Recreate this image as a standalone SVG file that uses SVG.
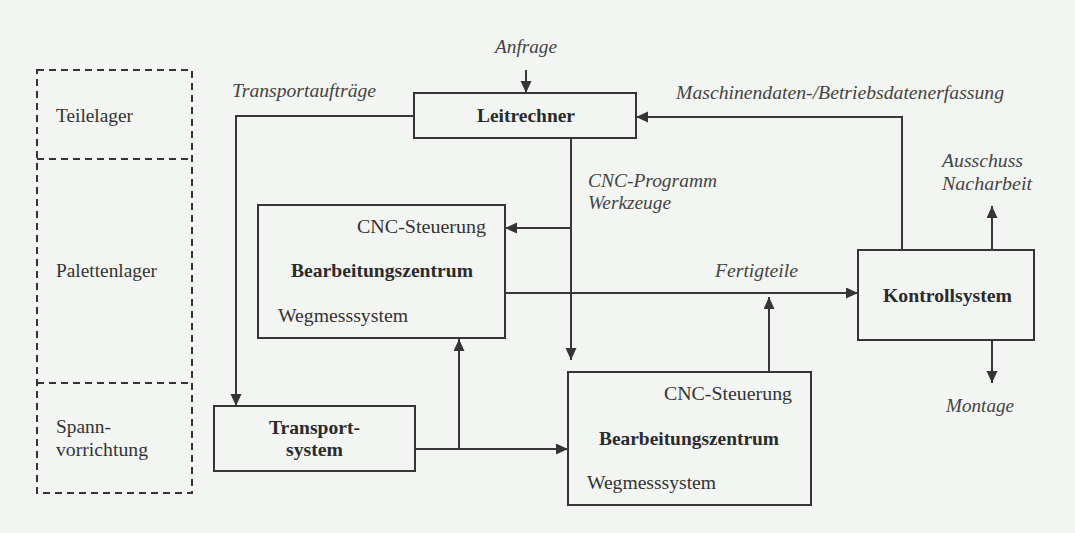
<svg xmlns="http://www.w3.org/2000/svg" width="1075" height="533" viewBox="0 0 1075 533">
<style>
.bg{fill:#f3f5f3}
.box{fill:none;stroke:#353535;stroke-width:2}
.dash{fill:none;stroke:#353535;stroke-width:2;stroke-dasharray:7 5}
.ln{fill:none;stroke:#383838;stroke-width:2}
text{font-family:"Liberation Serif","Times New Roman",serif;font-size:19px;fill:#333}
.b{font-weight:bold;fill:#2b2b2b}
.i{font-style:italic;fill:#444}
</style>
<defs>
<marker id="ah" markerUnits="userSpaceOnUse" markerWidth="13" markerHeight="12" refX="12" refY="5.5" orient="auto">
<path d="M0,0 L12,5.5 L0,11 z" fill="#353535"/>
</marker>
</defs>
<rect class="bg" x="0" y="0" width="1075" height="533"/>

<g id="lager">
<rect class="dash" x="37" y="70" width="155" height="423"/>
<line class="dash" x1="37" y1="159" x2="192" y2="159"/>
<line class="dash" x1="37" y1="383" x2="192" y2="383"/>
<text x="56" y="122" textLength="77" lengthAdjust="spacingAndGlyphs">Teilelager</text>
<text x="56" y="277" textLength="101" lengthAdjust="spacingAndGlyphs">Palettenlager</text>
<text x="56" y="433" textLength="55" lengthAdjust="spacingAndGlyphs">Spann-</text>
<text x="56" y="456" textLength="92" lengthAdjust="spacingAndGlyphs">vorrichtung</text>
</g>

<g id="leitrechner">
<rect class="box" x="414" y="93" width="222" height="45"/>
<text class="b" x="477" y="122" textLength="98" lengthAdjust="spacingAndGlyphs">Leitrechner</text>
</g>

<g id="bz1">
<rect class="box" x="258" y="205" width="247" height="133"/>
<text x="357" y="233" textLength="129" lengthAdjust="spacingAndGlyphs">CNC-Steuerung</text>
<text class="b" x="291" y="277" textLength="182" lengthAdjust="spacingAndGlyphs">Bearbeitungszentrum</text>
<text x="278" y="322" textLength="130" lengthAdjust="spacingAndGlyphs">Wegmesssystem</text>
</g>

<g id="transport">
<rect class="box" x="214" y="406" width="201" height="65"/>
<text class="b" x="269" y="434" textLength="91" lengthAdjust="spacingAndGlyphs">Transport-</text>
<text class="b" x="286" y="456" textLength="57" lengthAdjust="spacingAndGlyphs">system</text>
</g>

<g id="bz2">
<rect class="box" x="568" y="372" width="243" height="133"/>
<text x="664" y="400" textLength="128" lengthAdjust="spacingAndGlyphs">CNC-Steuerung</text>
<text class="b" x="599" y="445" textLength="180" lengthAdjust="spacingAndGlyphs">Bearbeitungszentrum</text>
<text x="587" y="489" textLength="129" lengthAdjust="spacingAndGlyphs">Wegmesssystem</text>
</g>

<g id="kontroll">
<rect class="box" x="858" y="250" width="176" height="90"/>
<text class="b" x="883" y="302" textLength="129" lengthAdjust="spacingAndGlyphs">Kontrollsystem</text>
</g>

<g id="connectors">
<line class="ln" x1="526" y1="70" x2="526" y2="93" marker-end="url(#ah)"/>
<polyline class="ln" points="414,116 236,116 236,406" marker-end="url(#ah)"/>
<polyline class="ln" points="902,250 902,117 636,117" marker-end="url(#ah)"/>
<line class="ln" x1="571" y1="138" x2="571" y2="360" marker-end="url(#ah)"/>
<line class="ln" x1="571" y1="228" x2="505" y2="228" marker-end="url(#ah)"/>
<line class="ln" x1="505" y1="293" x2="858" y2="293" marker-end="url(#ah)"/>
<line class="ln" x1="769" y1="372" x2="769" y2="297" marker-end="url(#ah)"/>
<line class="ln" x1="992" y1="250" x2="992" y2="206" marker-end="url(#ah)"/>
<line class="ln" x1="992" y1="340" x2="992" y2="383" marker-end="url(#ah)"/>
<line class="ln" x1="415" y1="449" x2="568" y2="449" marker-end="url(#ah)"/>
<line class="ln" x1="459" y1="449" x2="459" y2="339" marker-end="url(#ah)"/>
</g>

<g id="labels">
<text class="i" x="495" y="53" textLength="62" lengthAdjust="spacingAndGlyphs">Anfrage</text>
<text class="i" x="232" y="97" textLength="144" lengthAdjust="spacingAndGlyphs">Transportaufträge</text>
<text class="i" x="676" y="99" textLength="328" lengthAdjust="spacingAndGlyphs">Maschinendaten-/Betriebsdatenerfassung</text>
<text class="i" x="588" y="187" textLength="129" lengthAdjust="spacingAndGlyphs">CNC-Programm</text>
<text class="i" x="588" y="209" textLength="83" lengthAdjust="spacingAndGlyphs">Werkzeuge</text>
<text class="i" x="715" y="277" textLength="83" lengthAdjust="spacingAndGlyphs">Fertigteile</text>
<text class="i" x="942" y="167" textLength="81" lengthAdjust="spacingAndGlyphs">Ausschuss</text>
<text class="i" x="942" y="190" textLength="90" lengthAdjust="spacingAndGlyphs">Nacharbeit</text>
<text class="i" x="946" y="412" textLength="68" lengthAdjust="spacingAndGlyphs">Montage</text>
</g>
</svg>
